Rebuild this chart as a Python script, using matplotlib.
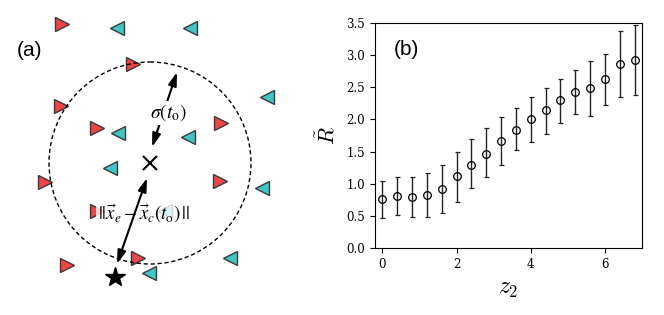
import matplotlib
matplotlib.use("Agg")
import matplotlib.pyplot as plt
from matplotlib.patches import Ellipse
import numpy as np

# ---- Panel (a) data (pixel-like schematic coordinates) ----
red_x = [62, 133, 61, 97, 221, 45, 220, 67, 138, 97]
red_y = [24, 64, 106, 128, 123, 182, 181, 265, 258, 211]
cyan_x = [117, 190, 267, 118, 188, 110, 262, 230, 149, 165]
cyan_y = [28, 28, 97, 133, 137, 168, 188, 258, 273, 211]
center = (150, 163)
radius = 101
star = (115, 277)

# ---- Panel (b) data ----
z2 = [0.0, 0.4, 0.8, 1.2, 1.6, 2.0, 2.4, 2.8, 3.2, 3.6, 4.0, 4.4, 4.8, 5.2, 5.6, 6.0, 6.4, 6.8]
R_mean = [0.76, 0.81, 0.79, 0.82, 0.92, 1.12, 1.30, 1.47, 1.66, 1.84, 2.00, 2.14, 2.30, 2.42, 2.49, 2.62, 2.86, 2.92]
R_low = [0.47, 0.51, 0.49, 0.49, 0.54, 0.72, 0.93, 1.10, 1.30, 1.52, 1.65, 1.77, 1.95, 2.08, 2.06, 2.22, 2.35, 2.38]
R_high = [1.05, 1.10, 1.10, 1.17, 1.30, 1.50, 1.69, 1.86, 2.03, 2.17, 2.35, 2.49, 2.63, 2.76, 2.90, 3.01, 3.37, 3.46]
xticks = [0, 2, 4, 6]
yticks = [0.0, 0.5, 1.0, 1.5, 2.0, 2.5, 3.0, 3.5]

plt.rcParams["font.family"] = ["DejaVu Serif"]

fig = plt.figure(figsize=(6.64, 3.15), dpi=100)

# ---------- Panel (a) ----------
axa = fig.add_axes([0, 0, 332 / 664, 1])
axa.set_xlim(0, 332)
axa.set_ylim(315, 0)
axa.axis("off")

axa.plot(red_x, red_y, ">", color="#ee4646", mec="#3a3a3a", mew=1.0, ms=10, ls="none", zorder=2)
axa.plot(cyan_x, cyan_y, "<", color="#40c4c4", mec="#3a3a3a", mew=1.0, ms=10, ls="none", zorder=2)

circ = Ellipse(center, 2 * radius, 2 * radius, fill=False, ls=(0, (3, 2)), lw=1.0, ec="black", zorder=3)
axa.add_patch(circ)

axa.plot([center[0]], [center[1]], "x", color="black", ms=10, mew=1.5, zorder=4)
axa.plot([star[0]], [star[1]], "*", color="black", ms=15, zorder=4)

arrowkw = dict(arrowstyle="<|-|>,head_length=0.8,head_width=0.25", color="black", lw=1.5,
               shrinkA=0, shrinkB=0)
axa.annotate("", xy=(152, 147), xytext=(177, 72), arrowprops=arrowkw, zorder=3)
axa.text(168, 113, r"$\sigma(t_{\mathrm{o}})$", fontsize=14, ha="center", va="center",
         math_fontfamily="stix", zorder=4,
         bbox=dict(boxstyle="square,pad=0.1", fc="white", ec="none"))

axa.text(144, 214, r"$||\vec{x}_e - \vec{x}_c(t_{\mathrm{o}})\,||$", fontsize=13.5, ha="center", va="center",
         math_fontfamily="stix", zorder=4,
         bbox=dict(boxstyle="square,pad=0.1", fc="white", ec="none", alpha=0.8))
axa.annotate("", xy=(117, 264), xytext=(147, 178), arrowprops=arrowkw, zorder=5)

axa.text(17, 50, "(a)", fontsize=15, ha="left", va="center", family="Liberation Sans")

# ---------- Panel (b) ----------
axb = fig.add_axes([375 / 664, 1 - 248.3 / 315, (642 - 375) / 664, (248.3 - 22.7) / 315])
mean = np.array(R_mean)
yerr = np.vstack([mean - np.array(R_low), np.array(R_high) - mean])
axb.errorbar(z2, R_mean, yerr=yerr, fmt="o", mfc="none", mec="black", mew=0.9, ms=5.5,
             ecolor="#222222", elinewidth=1.0, capsize=1.8, capthick=1.0)
axb.set_xlim(-0.2, 7.0)
axb.set_ylim(0, 3.5)
axb.set_xticks(xticks)
axb.set_yticks(yticks)
axb.set_xticklabels([str(t) for t in xticks])
axb.set_yticklabels([f"{t:.1f}" for t in yticks])
for lab in axb.get_xticklabels() + axb.get_yticklabels():
    lab.set_fontfamily("DejaVu Serif")
    lab.set_fontsize(8.5)
axb.tick_params(length=3.5, width=0.8)
axb.set_xlabel(r"$z_2$", fontsize=17, math_fontfamily="cm", labelpad=4)
axb.set_ylabel(r"$\tilde{R}$", fontsize=16, math_fontfamily="cm", labelpad=5)
axb.text(0.07, 0.88, "(b)", transform=axb.transAxes, fontsize=15, ha="left", va="center",
         family="Liberation Sans")

fig.savefig("out.png", dpi=100)
